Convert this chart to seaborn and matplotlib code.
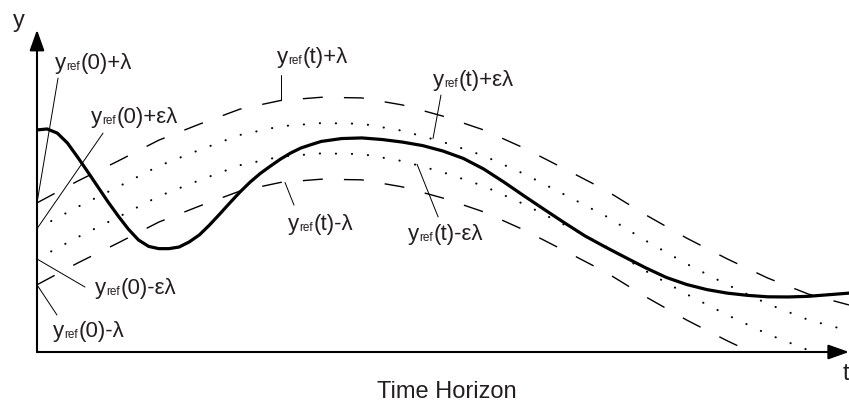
import matplotlib
matplotlib.use("Agg")
import matplotlib.pyplot as plt
import numpy as np
import pandas as pd
import seaborn as sns

# Reference trajectory y_ref(t) (centre of the tolerance band)
t_ref = [0.0, 0.5, 1.0, 1.5, 2.0, 2.5, 3.0, 3.5, 4.0, 4.5, 5.0,
         5.5, 6.0, 6.5, 7.0, 7.5, 8.0, 8.5, 9.0, 9.5, 10.0]
y_ref = [3.38, 4.06, 4.69, 5.34, 5.84, 6.31, 6.58, 6.68, 6.66, 6.44, 6.09,
         5.66, 5.09, 4.44, 3.78, 3.00, 2.28, 1.63, 1.03, 0.53, 0.19]

# Band half-widths: outer band +/- lam, inner band +/- eps*lam
lam = 1.28
eps = 0.37

# Actual system output y(t)
t_out = [0.0, 0.125, 0.25, 0.375, 0.5, 0.625, 0.75, 0.875, 1.0, 1.125, 1.25,
         1.375, 1.5, 1.625, 1.75, 1.875, 2.0, 2.125, 2.25, 2.375, 2.5,
         2.625, 2.75, 2.875, 3.0, 3.125, 3.25, 3.375, 3.5, 3.75, 4.0,
         4.25, 4.5, 4.75, 5.0, 5.25, 5.5, 5.75, 6.0, 6.25, 6.5, 6.75,
         7.0, 7.25, 7.5, 7.75, 8.0, 8.25, 8.5, 8.75, 9.0, 9.25, 9.5, 9.75, 10.0]
y_out = [6.94, 6.97, 6.84, 6.53, 6.09, 5.63, 5.16, 4.69, 4.25, 3.84, 3.50,
         3.30, 3.23, 3.23, 3.28, 3.44, 3.66, 3.97, 4.31, 4.66, 5.00,
         5.31, 5.58, 5.81, 6.03, 6.22, 6.375, 6.48, 6.58, 6.67, 6.69,
         6.64, 6.56, 6.45, 6.28, 6.05, 5.72, 5.31, 4.875, 4.45, 4.03, 3.625,
         3.28, 2.95, 2.625, 2.33, 2.11, 1.95, 1.84, 1.77, 1.725, 1.72, 1.74, 1.79, 1.84]

# Label tails (drawn after "y" with a "ref" subscript)
tail_up0 = "(0)+λ"
tail_upe0 = "(0)+ελ"
tail_lowe0 = "(0)-ελ"
tail_low0 = "(0)-λ"
tail_up = "(t)+λ"
tail_upe = "(t)+ελ"
tail_low = "(t)-λ"
tail_lowe = "(t)-ελ"

sns.set_theme(style="white")
plt.rcParams["font.family"] = ["Liberation Sans", "DejaVu Sans"]

TXT = "#231f20"

fig = plt.figure(figsize=(8.49, 4.03), dpi=100)
ax = fig.add_axes([37 / 849, 51 / 403, 812 / 849, 320 / 403])
ax.set_xlim(0, 10)
ax.set_ylim(0, 10)
for s in ax.spines.values():
    s.set_visible(False)
ax.set_xticks([])
ax.set_yticks([])
ax.patch.set_alpha(0)

band = pd.DataFrame({"t": t_ref, "y": y_ref})
band["up"] = band["y"] + lam
band["low"] = band["y"] - lam
band["upe"] = band["y"] + eps * lam
band["lowe"] = band["y"] - eps * lam
traj = pd.DataFrame({"t": t_out, "y": y_out})

dash = (0, (14.4, 15.2))
dot = (0, (0.1, 7.6))
for col in ["up", "low"]:
    sns.lineplot(data=band, x="t", y=col, ax=ax, color="black", lw=1.0,
                 linestyle=dash, sort=False, estimator=None)
for col in ["upe", "lowe"]:
    sns.lineplot(data=band, x="t", y=col, ax=ax, color="black", lw=1.5,
                 linestyle=dot, dash_capstyle="round", sort=False, estimator=None)
sns.lineplot(data=traj, x="t", y="y", ax=ax, color="black", lw=2.3,
             sort=False, estimator=None, solid_joinstyle="round")
ax.set_xlabel("")
ax.set_ylabel("")

# Axes drawn as arrows
arrow_kw = dict(arrowstyle="-|>,head_length=0.9,head_width=0.32", color="black",
                lw=1.5, shrinkA=0, shrinkB=0, mutation_scale=14)
ax.annotate("", xy=(0, 10.07), xytext=(0, 0), arrowprops=arrow_kw,
            annotation_clip=False)
ax.annotate("", xy=(10.0, 0), xytext=(0, 0), arrowprops=arrow_kw,
            annotation_clip=False)

ax.text(-0.22, 10.16, "y", fontsize=17, color=TXT, ha="center", va="baseline",
        clip_on=False)
ax.text(9.96, -0.875, "t", fontsize=17, color=TXT, ha="center", va="baseline",
        clip_on=False)
ax.text(5.05, -1.44, "Time Horizon", fontsize=17, color=TXT, ha="center",
        va="baseline", clip_on=False)

y0 = y_ref[0]
leader_kw = dict(color="black", lw=0.7, clip_on=False)

# Labels at t = 0 with leaders to the band edges on the y axis
ax.plot([0.259, 0.0], [8.56, y0 + lam], **leader_kw)
ax.plot([0.813, 0.0], [6.84, y0 + eps * lam], **leader_kw)
ax.plot([0.0, 0.591], [y0 - eps * lam, 2.03], **leader_kw)
ax.plot([0.0, 0.246], [y0 - lam, 1.156], **leader_kw)

# Labels along the band
ax.plot([3.005, 3.005], [8.656, 6.58 + lam], **leader_kw)
ax.plot([4.975, 4.877], [8.03, 6.67], **leader_kw)
ax.plot([3.054, 3.165], [6.58 - lam, 4.59], **leader_kw)
ax.plot([4.68, 4.94], [5.87, 4.22], **leader_kw)


def ref_label(x, y, tail, size=16, sub_size=8.5):
    """Write y_ref<tail> with a small 'ref' subscript, left/baseline at (x, y)."""
    head = ax.text(x, y, "y", fontsize=size, color=TXT, ha="left",
                   va="baseline", clip_on=False)
    sub = ax.annotate("ref", xy=(1, 0), xycoords=head, xytext=(0.2, 0.7),
                      textcoords="offset points", fontsize=sub_size, color=TXT,
                      ha="left", va="bottom", annotation_clip=False)
    ax.annotate(tail, xy=(1, 0), xycoords=(sub, head), xytext=(0.2, 0),
                textcoords="offset points", fontsize=size, color=TXT,
                ha="left", va="bottom", annotation_clip=False)


ref_label(0.222, 8.844, tail_up0)
ref_label(0.665, 7.156, tail_upe0)
ref_label(0.714, 1.81, tail_lowe0)
ref_label(0.197, 0.469, tail_low0)
ref_label(2.956, 9.03, tail_up)
ref_label(4.877, 8.31, tail_upe)
ref_label(3.091, 3.81, tail_low)
ref_label(4.569, 3.50, tail_lowe)

fig.savefig("out.png", dpi=100, facecolor="white")
